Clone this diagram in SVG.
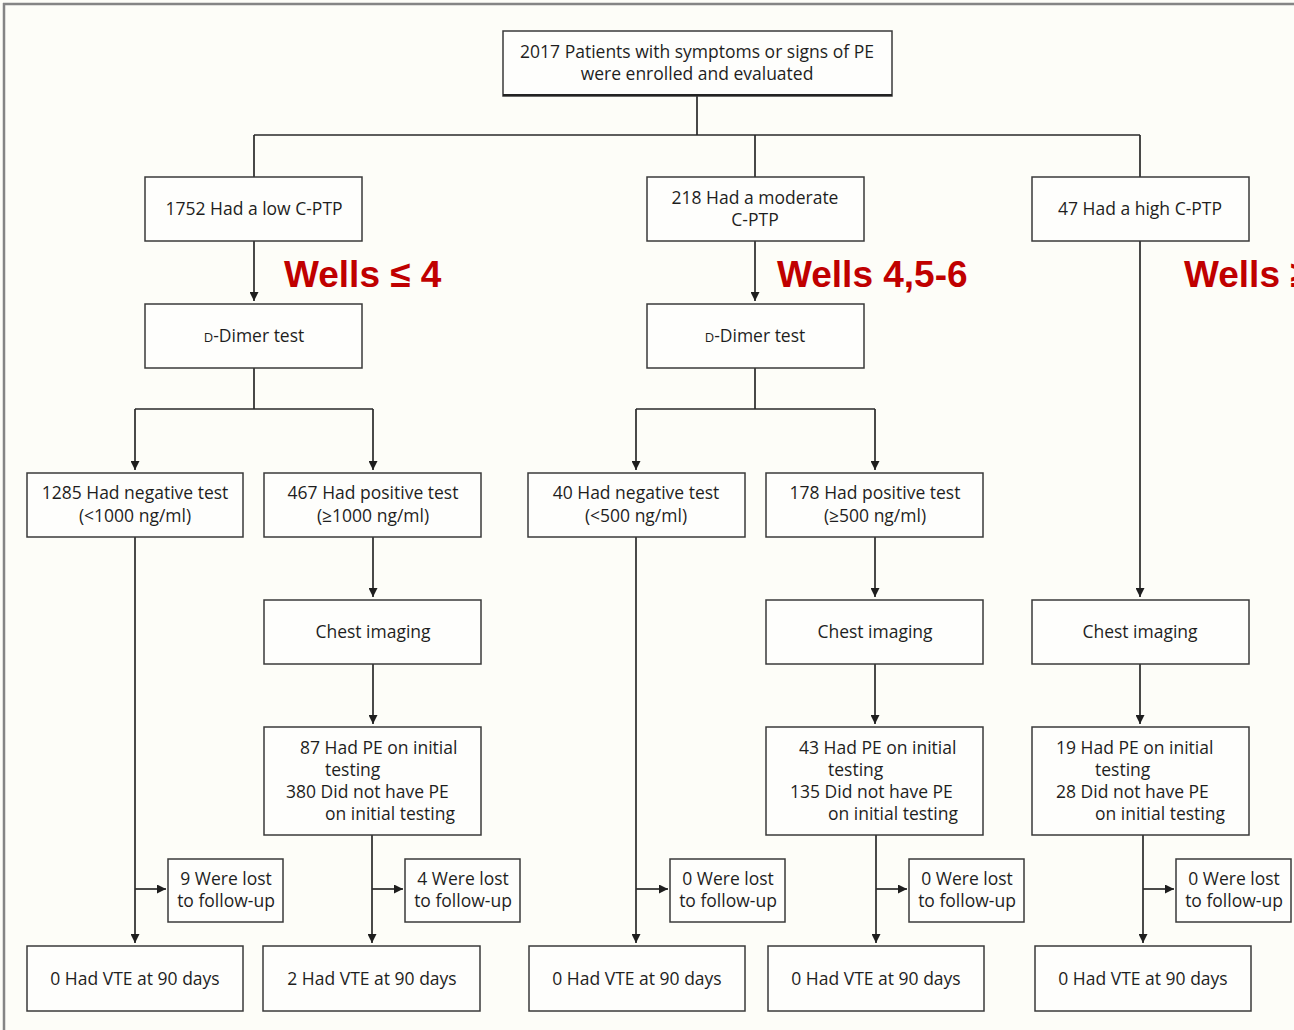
<svg xmlns="http://www.w3.org/2000/svg" width="1294" height="1030" viewBox="0 0 1294 1030">
<defs>
<style>
.box{fill:#fefefc;stroke:#3a3a3a;stroke-width:1.5}
.t{font-family:"Open Sans","Noto Sans",sans-serif;font-size:17.5px;fill:#1e1e1e}
.c{text-anchor:middle}
.ln{fill:none;stroke:#2a2a2a;stroke-width:1.7}
.red{font-family:"Liberation Sans",Arial,sans-serif;font-weight:bold;font-size:37px;fill:#c00000}
</style>
<marker id="ah" viewBox="0 0 10 10" refX="10" refY="5" markerWidth="9" markerHeight="9" markerUnits="userSpaceOnUse" orient="auto">
<path d="M0,0 L10,5 L0,10 z" fill="#1e1e1e"/>
</marker>
</defs>
<rect width="1294" height="1030" fill="#fdfdf8"/>
<path d="M3,4 H1294 M4,3 V1030" stroke="#858585" stroke-width="2.5" fill="none"/>

<g id="connectors">
<path class="ln" d="M697,96 V135 M254,135 H1140 M254,135 V177 M755,135 V177 M1140,135 V177"/>
<path class="ln" d="M254,241 V301" marker-end="url(#ah)"/>
<path class="ln" d="M755,241 V301" marker-end="url(#ah)"/>
<path class="ln" d="M1140,241 V597" marker-end="url(#ah)"/>
<path class="ln" d="M254,368 V409 M135,409 H373 M636,409 H875 M755,368 V409"/>
<path class="ln" d="M135,409 V470" marker-end="url(#ah)"/>
<path class="ln" d="M373,409 V470" marker-end="url(#ah)"/>
<path class="ln" d="M636,409 V470" marker-end="url(#ah)"/>
<path class="ln" d="M875,409 V470" marker-end="url(#ah)"/>
<path class="ln" d="M373,537 V597" marker-end="url(#ah)"/>
<path class="ln" d="M875,537 V597" marker-end="url(#ah)"/>
<path class="ln" d="M373,664 V724" marker-end="url(#ah)"/>
<path class="ln" d="M875,664 V724" marker-end="url(#ah)"/>
<path class="ln" d="M1140,664 V724" marker-end="url(#ah)"/>
<path class="ln" d="M135,537 V943" marker-end="url(#ah)"/>
<path class="ln" d="M135,889 H166" marker-end="url(#ah)"/>
<path class="ln" d="M372,835 V943" marker-end="url(#ah)"/>
<path class="ln" d="M372,889 H403" marker-end="url(#ah)"/>
<path class="ln" d="M636,537 V943" marker-end="url(#ah)"/>
<path class="ln" d="M636,889 H668" marker-end="url(#ah)"/>
<path class="ln" d="M876,835 V943" marker-end="url(#ah)"/>
<path class="ln" d="M876,889 H907" marker-end="url(#ah)"/>
<path class="ln" d="M1143,835 V943" marker-end="url(#ah)"/>
<path class="ln" d="M1143,889 H1174" marker-end="url(#ah)"/>
</g>

<g id="n-top"><rect class="box" x="503" y="31" width="389" height="65"/><path d="M503,95 H892" stroke="#222" stroke-width="2"/>
<text class="t c" x="697" y="58">2017 Patients with symptoms or signs of PE</text>
<text class="t c" x="697" y="80">were enrolled and evaluated</text></g>

<g id="n-low"><rect class="box" x="145" y="177" width="217" height="64"/><text class="t c" x="254" y="215">1752 Had a low C-PTP</text></g>
<g id="n-mod"><rect class="box" x="647" y="177" width="217" height="64"/><text class="t c" x="755" y="204">218 Had a moderate</text><text class="t c" x="755" y="226">C-PTP</text></g>
<g id="n-high"><rect class="box" x="1032" y="177" width="217" height="64"/><text class="t c" x="1140" y="215">47 Had a high C-PTP</text></g>

<g id="lbl-wells"><text class="red" x="284" y="287">Wells ≤ 4</text><text class="red" x="777" y="287">Wells 4,5-6</text><text class="red" x="1184" y="287">Wells ≥</text></g>

<g id="n-dd1"><rect class="box" x="145" y="304" width="217" height="64"/><text class="t c" x="254" y="342"><tspan font-size="13">D</tspan>-Dimer test</text></g>
<g id="n-dd2"><rect class="box" x="647" y="304" width="217" height="64"/><text class="t c" x="755" y="342"><tspan font-size="13">D</tspan>-Dimer test</text></g>

<g id="n-neg1"><rect class="box" x="27" y="473" width="216" height="64"/><text class="t c" x="135" y="499">1285 Had negative test</text><text class="t c" x="135" y="522">(&lt;1000 ng/ml)</text></g>
<g id="n-pos1"><rect class="box" x="264" y="473" width="217" height="64"/><text class="t c" x="373" y="499">467 Had positive test</text><text class="t c" x="373" y="522">(≥1000 ng/ml)</text></g>
<g id="n-neg2"><rect class="box" x="528" y="473" width="217" height="64"/><text class="t c" x="636" y="499">40 Had negative test</text><text class="t c" x="636" y="522">(&lt;500 ng/ml)</text></g>
<g id="n-pos2"><rect class="box" x="766" y="473" width="217" height="64"/><text class="t c" x="875" y="499">178 Had positive test</text><text class="t c" x="875" y="522">(≥500 ng/ml)</text></g>

<g id="n-ci1"><rect class="box" x="264" y="600" width="217" height="64"/><text class="t c" x="373" y="638">Chest imaging</text></g>
<g id="n-ci2"><rect class="box" x="766" y="600" width="217" height="64"/><text class="t c" x="875" y="638">Chest imaging</text></g>
<g id="n-ci3"><rect class="box" x="1032" y="600" width="217" height="64"/><text class="t c" x="1140" y="638">Chest imaging</text></g>

<g id="n-pe1"><rect class="box" x="264" y="727" width="217" height="108"/>
<text class="t" x="300" y="754">87 Had PE on initial</text><text class="t" x="325" y="776">testing</text><text class="t" x="286" y="798">380 Did not have PE</text><text class="t" x="325" y="820">on initial testing</text></g>
<g id="n-pe2"><rect class="box" x="766" y="727" width="217" height="108"/>
<text class="t" x="799" y="754">43 Had PE on initial</text><text class="t" x="828" y="776">testing</text><text class="t" x="790" y="798">135 Did not have PE</text><text class="t" x="828" y="820">on initial testing</text></g>
<g id="n-pe3"><rect class="box" x="1032" y="727" width="217" height="108"/>
<text class="t" x="1056" y="754">19 Had PE on initial</text><text class="t" x="1095" y="776">testing</text><text class="t" x="1056" y="798">28 Did not have PE</text><text class="t" x="1095" y="820">on initial testing</text></g>

<g id="n-lost1"><rect class="box" x="168" y="859" width="115" height="63"/><text class="t c" x="226" y="885">9 Were lost</text><text class="t c" x="226" y="907">to follow-up</text></g>
<g id="n-lost2"><rect class="box" x="405" y="859" width="115" height="63"/><text class="t c" x="463" y="885">4 Were lost</text><text class="t c" x="463" y="907">to follow-up</text></g>
<g id="n-lost3"><rect class="box" x="670" y="859" width="115" height="63"/><text class="t c" x="728" y="885">0 Were lost</text><text class="t c" x="728" y="907">to follow-up</text></g>
<g id="n-lost4"><rect class="box" x="909" y="859" width="115" height="63"/><text class="t c" x="967" y="885">0 Were lost</text><text class="t c" x="967" y="907">to follow-up</text></g>
<g id="n-lost5"><rect class="box" x="1176" y="859" width="115" height="63"/><text class="t c" x="1234" y="885">0 Were lost</text><text class="t c" x="1234" y="907">to follow-up</text></g>

<g id="n-vte1"><rect class="box" x="27" y="946" width="216" height="65"/><text class="t c" x="135" y="985">0 Had VTE at 90 days</text></g>
<g id="n-vte2"><rect class="box" x="263" y="946" width="217" height="65"/><text class="t c" x="372" y="985">2 Had VTE at 90 days</text></g>
<g id="n-vte3"><rect class="box" x="529" y="946" width="216" height="65"/><text class="t c" x="637" y="985">0 Had VTE at 90 days</text></g>
<g id="n-vte4"><rect class="box" x="768" y="946" width="216" height="65"/><text class="t c" x="876" y="985">0 Had VTE at 90 days</text></g>
<g id="n-vte5"><rect class="box" x="1035" y="946" width="216" height="65"/><text class="t c" x="1143" y="985">0 Had VTE at 90 days</text></g>
</svg>
